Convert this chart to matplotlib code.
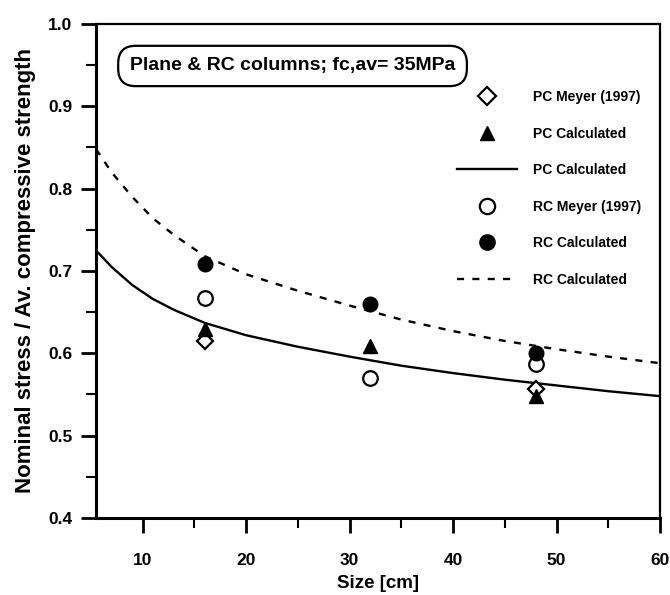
import numpy as np
import matplotlib.pyplot as plt
from matplotlib.lines import Line2D
from matplotlib.ticker import MultipleLocator

plt.rcParams['font.family'] = ['Liberation Sans Narrow', 'Liberation Sans', 'DejaVu Sans']
plt.rcParams['font.weight'] = 'bold'

# measured points
size_cm = [16, 32, 48]
pc_meyer_x = [16, 48]
pc_meyer = [0.615, 0.557]
pc_calc = [0.630, 0.609, 0.548]
rc_meyer = [0.667, 0.570, 0.587]
rc_calc = [0.709, 0.660, 0.600]

# fitted curves
curve_x = [5.5, 7, 9, 11, 13, 16, 20, 25, 30, 35, 40, 45, 50, 55, 60]
pc_curve = [0.725, 0.705, 0.683, 0.666, 0.653, 0.637, 0.622, 0.608, 0.596, 0.585,
            0.576, 0.568, 0.561, 0.554, 0.548]
rc_curve = [0.848, 0.820, 0.790, 0.764, 0.744, 0.718, 0.696, 0.676, 0.658, 0.641,
            0.627, 0.615, 0.605, 0.596, 0.588]

fig = plt.figure(figsize=(6.7, 5.95), dpi=100)
ax = fig.add_axes([0.1433, 0.1294, 0.8418, 0.8303])

ax.plot(curve_x, pc_curve, '-', c='k', lw=1.7)
ax.plot(curve_x, rc_curve, '--', c='k', lw=1.7, dashes=(3, 3.5))
ax.plot(pc_meyer_x, pc_meyer, 'D', mfc='white', mec='k', mew=1.6, ms=8.5, ls='none')
ax.plot(size_cm, pc_calc, '^', c='k', ms=9.5, ls='none')
ax.plot(size_cm, rc_meyer, 'o', mfc='white', mec='k', mew=1.6, ms=10.5, ls='none')
ax.plot(size_cm, rc_calc, 'o', c='k', ms=10.5, ls='none')

ax.set_xlim(5.5, 60)
ax.set_ylim(0.4, 1.0)
ax.xaxis.set_major_locator(MultipleLocator(10))
ax.xaxis.set_minor_locator(MultipleLocator(5))
ax.yaxis.set_major_locator(MultipleLocator(0.1))
ax.yaxis.set_minor_locator(MultipleLocator(0.05))
ax.yaxis.set_major_formatter(plt.FuncFormatter(lambda v, p: '%.1f' % v))
ax.tick_params(which='major', direction='out', length=11, width=2, labelsize=12.5, pad=14)
ax.tick_params(which='minor', direction='out', length=7, width=1.5)
ax.tick_params(axis='y', pad=6)
for s in ['left', 'bottom']:
    ax.spines[s].set_linewidth(2.2)
for s in ['top', 'right']:
    ax.spines[s].set_linewidth(1.6)

ax.set_xlabel('Size [cm]', fontsize=13.5, fontweight='bold', labelpad=5)
ax.set_ylabel('Nominal stress / Av. compressive strength', fontsize=16, fontweight='bold', labelpad=9)

ax.text(0.06, 0.915, 'Plane & RC columns; fc,av= 35MPa', transform=ax.transAxes,
        fontsize=14, fontweight='bold', va='center', ha='left',
        bbox=dict(boxstyle='round,pad=0.6,rounding_size=0.9', fc='white', ec='k', lw=1.6))

handles = [
    Line2D([], [], marker='D', mfc='white', mec='k', mew=1.6, ms=9.5, ls='none'),
    Line2D([], [], marker='^', c='k', ms=10.5, ls='none'),
    Line2D([], [], c='k', lw=1.7),
    Line2D([], [], marker='o', mfc='white', mec='k', mew=1.6, ms=11, ls='none'),
    Line2D([], [], marker='o', c='k', ms=11, ls='none'),
    Line2D([], [], c='k', lw=1.7, ls='--', dashes=(3, 3.5)),
]
labels = ['PC Meyer (1997)', 'PC Calculated', 'PC Calculated',
          'RC Meyer (1997)', 'RC Calculated', 'RC Calculated']
ax.legend(handles, labels, loc='upper left', bbox_to_anchor=(0.64, 0.866), frameon=False,
          handlelength=4.3, handletextpad=1.2, labelspacing=1.62,
          borderpad=0, borderaxespad=0, prop={'weight': 'bold', 'size': 10})

fig.savefig('out.png', dpi=100)
